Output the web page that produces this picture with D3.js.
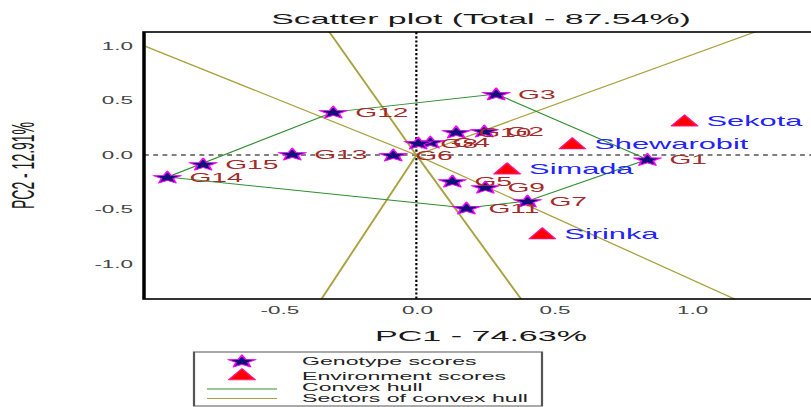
<!DOCTYPE html>
<html>
<head>
<meta charset="utf-8">
<script src="https://cdn.jsdelivr.net/npm/d3@7"></script>
<style>
  html, body { margin: 0; padding: 0; background: #fff; }
  svg { display: block; }
  text { font-family: "Liberation Sans", Arial, sans-serif; }
</style>
</head>
<body>
<div id="chart"></div>
<script>
// GGE biplot: genotype and environment scores on PC1/PC2
const genotypes = ["G1","G2","G3","G4","G5","G6","G7","G8","G9","G10","G11","G12","G13","G14","G15"];
const genoPC1 = [0.84, 0.247, 0.29, 0.051, 0.131, -0.084, 0.404, 0.007, 0.251, 0.145, 0.182, -0.302, -0.451, -0.905, -0.775];
const genoPC2 = [-0.04, 0.22, 0.56, 0.119, -0.239, 0.0, -0.422, 0.11, -0.294, 0.211, -0.486, 0.394, 0.009, -0.202, -0.083];

const environments = ["Sekota", "Shewarobit", "Simada", "Sirinka"];
const envPC1 = [0.975, 0.567, 0.33, 0.458];
const envPC2 = [0.31, 0.10, -0.13, -0.725];

// vertices of the convex hull, in drawing order
const hullOrder = ["G3", "G1", "G7", "G11", "G14", "G12"];

const xTicks = [-0.5, 0.0, 0.5, 1.0];
const yTicks = [-1.0, -0.5, 0.0, 0.5, 1.0];

const titleText = "Scatter plot (Total - 87.54%)";
const xTitle = "PC1 - 74.63%";
const yTitle = "PC2 - 12.91%";
const legendLabels = ["Genotype scores", "Environment scores", "Convex hull", "Sectors of convex hull"];

// The device is stretched horizontally: user units are squeezed by S in x.
const S = 2.2;
const W = 811, H = 407;
const VW = W / S;
const hx = p => p / S;

const svg = d3.select("#chart").append("svg")
  .attr("width", W).attr("height", H)
  .attr("viewBox", `0 0 ${VW} ${H}`)
  .attr("preserveAspectRatio", "none");

const plot = { left: hx(144), right: hx(818), top: 32, bottom: 299 };

const x = d3.scaleLinear().domain([-0.99, 1.46]).range([plot.left, plot.right]);
const y = d3.scaleLinear().domain([-1.32, 1.128]).range([plot.bottom, plot.top]);

const fmt = d => d3.format(".1f")(d).replace("\u2212", "-");

svg.append("defs").append("clipPath").attr("id", "plotClip")
  .append("rect")
  .attr("x", plot.left).attr("y", plot.top)
  .attr("width", plot.right - plot.left).attr("height", plot.bottom - plot.top);

const inner = svg.append("g").attr("clip-path", "url(#plotClip)");

// reference lines through the origin
inner.append("line")
  .attr("x1", plot.left).attr("x2", plot.right)
  .attr("y1", y(0)).attr("y2", y(0))
  .attr("stroke", "#000").attr("stroke-width", 1)
  .attr("stroke-dasharray", "2.2,2");
inner.append("line")
  .attr("x1", x(0)).attr("x2", x(0))
  .attr("y1", plot.top).attr("y2", plot.bottom)
  .attr("stroke", "#000").attr("stroke-width", 1)
  .attr("stroke-dasharray", "2.2,2");

// hull vertices in data space
const gIndex = name => genotypes.indexOf(name);
const hullPts = hullOrder.map(n => [genoPC1[gIndex(n)], genoPC2[gIndex(n)]]);

// sector rays: from origin, perpendicular to each hull edge
const sectorColor = "#aaa23e";
hullPts.forEach((a, i) => {
  const b = hullPts[(i + 1) % hullPts.length];
  const dx = b[0] - a[0], dy = b[1] - a[1];
  const t = -(a[0] * dx + a[1] * dy) / (dx * dx + dy * dy);
  const fx = a[0] + t * dx, fy = a[1] + t * dy;
  const len = Math.hypot(fx, fy);
  const far = 10;
  inner.append("line")
    .attr("x1", x(0)).attr("y1", y(0))
    .attr("x2", x(fx / len * far)).attr("y2", y(fy / len * far))
    .attr("stroke", sectorColor).attr("stroke-width", 1);
});

// convex hull
const hullColor = "#2f8f2f";
inner.append("path")
  .attr("d", d3.line().x(d => x(d[0])).y(d => y(d[1]))(hullPts) + "Z")
  .attr("fill", "none").attr("stroke", hullColor).attr("stroke-width", 0.9);

// marker shapes
function starPath(R, r) {
  const pts = [];
  for (let k = 0; k < 10; k++) {
    const rad = k % 2 === 0 ? R : r;
    const ang = -Math.PI / 2 + k * Math.PI / 5;
    pts.push([rad * Math.cos(ang), rad * Math.sin(ang)]);
  }
  return "M" + pts.map(p => p[0].toFixed(2) + "," + p[1].toFixed(2)).join("L") + "Z";
}
const STAR = starPath(6.6, 2.8);
const TRI = "M0,-6.4L6,4.8L-6,4.8Z";

function drawStar(g, cx, cy) {
  g.append("path").attr("d", STAR)
    .attr("transform", `translate(${cx},${cy + 0.6})`)
    .attr("fill", "#10107a").attr("stroke", "#ff00ff")
    .attr("stroke-width", 0.85).attr("stroke-linejoin", "round");
}
function drawTri(g, cx, cy) {
  g.append("path").attr("d", TRI)
    .attr("transform", `translate(${cx},${cy})`)
    .attr("fill", "#ff0000").attr("stroke", "#ff1493")
    .attr("stroke-width", 0.8).attr("stroke-linejoin", "round");
}

// environment markers and labels
const envG = inner.append("g");
environments.forEach((name, i) => {
  drawTri(envG, x(envPC1[i]), y(envPC2[i]));
  envG.append("text")
    .attr("x", x(envPC1[i]) + 10).attr("y", y(envPC2[i]))
    .attr("dy", "0.36em")
    .attr("font-size", 14).attr("fill", "#2222ff")
    .text(name);
});

// genotype markers and labels
const genoG = inner.append("g");
genotypes.forEach((name, i) => {
  drawStar(genoG, x(genoPC1[i]), y(genoPC2[i]));
});
genotypes.forEach((name, i) => {
  genoG.append("text")
    .attr("x", x(genoPC1[i]) + 10).attr("y", y(genoPC2[i]))
    .attr("dy", "0.36em")
    .attr("font-size", 12.8).attr("fill", "#a52a2a")
    .text(name);
});

// axes (labels only)
const xAxis = svg.append("g")
  .attr("transform", `translate(0,${plot.bottom})`)
  .call(d3.axisBottom(x).tickValues(xTicks).tickFormat(fmt).tickSize(0).tickPadding(8));
const yAxis = svg.append("g")
  .attr("transform", `translate(${plot.left},0)`)
  .call(d3.axisLeft(y).tickValues(yTicks).tickFormat(fmt).tickSize(0).tickPadding(hx(11)));
[xAxis, yAxis].forEach(a => {
  a.select(".domain").remove();
  a.selectAll("text").attr("font-size", 10.2).attr("fill", "#444")
    .attr("font-family", "Liberation Sans, Arial, sans-serif");
});

// plot frame
svg.append("rect")
  .attr("x", plot.left).attr("y", plot.top)
  .attr("width", plot.right - plot.left).attr("height", plot.bottom - plot.top)
  .attr("fill", "none").attr("stroke", "#000").attr("stroke-width", 1.6);

// titles
const cx = (plot.left + plot.right) / 2;
svg.append("text").attr("x", cx).attr("y", 24)
  .attr("text-anchor", "middle").attr("font-size", 15.4).attr("fill", "#1a1a1a")
  .text(titleText);
svg.append("text").attr("x", cx).attr("y", 341)
  .attr("text-anchor", "middle").attr("font-size", 15.5).attr("fill", "#1a1a1a")
  .text(xTitle);
svg.append("text")
  .attr("transform", `translate(${hx(34)},${(plot.top + plot.bottom) / 2}) rotate(-90)`)
  .attr("text-anchor", "middle").attr("font-size", 14).attr("fill", "#1a1a1a")
  .text(yTitle);

// legend
const lg = svg.append("g");
lg.append("rect")
  .attr("x", hx(194)).attr("y", 352)
  .attr("width", hx(542) - hx(194)).attr("height", 54)
  .attr("fill", "#fff").attr("stroke", "#555").attr("stroke-width", 1);
drawStar(lg, hx(242), 361);
drawTri(lg, hx(242), 375);
lg.append("line").attr("x1", hx(207)).attr("x2", hx(277)).attr("y1", 389).attr("y2", 389)
  .attr("stroke", hullColor).attr("stroke-width", 0.9);
lg.append("line").attr("x1", hx(207)).attr("x2", hx(277)).attr("y1", 398.5).attr("y2", 398.5)
  .attr("stroke", sectorColor).attr("stroke-width", 1);
const legendBase = [365, 380, 391, 402];
legendLabels.forEach((t, i) => {
  lg.append("text").attr("x", hx(302)).attr("y", legendBase[i])
    .attr("font-size", 10.5).attr("fill", "#222").text(t);
});
</script>
</body>
</html>
